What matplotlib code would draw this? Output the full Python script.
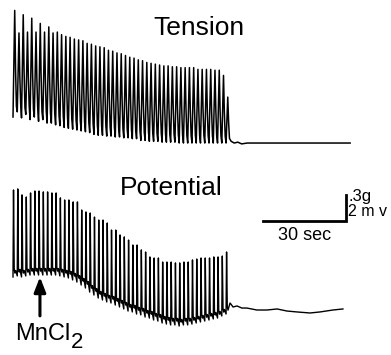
import numpy as np
import matplotlib
matplotlib.use("Agg")
import matplotlib.pyplot as plt

plt.rcParams['font.family'] = ['Liberation Sans', 'DejaVu Sans']

# beat timing (s)
beat_start = 0.36
beat_period = 1.54

# tension, g : peak and trough of every beat
tension_peak = [1.53, 1.27, 1.48, 1.28, 1.44, 1.28, 1.38, 1.28, 1.34, 1.27,
                1.28, 1.25, 1.23, 1.22, 1.20, 1.19, 1.18, 1.15, 1.14, 1.12,
                1.11, 1.10, 1.07, 1.06, 1.04, 1.03, 1.01, 0.99, 0.98, 0.96,
                0.95, 0.93, 0.92, 0.91, 0.90, 0.89, 0.89, 0.88, 0.88, 0.87,
                0.87, 0.87, 0.87, 0.85, 0.85, 0.85, 0.85, 0.84, 0.84, 0.78,
                0.53]
tension_trough = [0.30, 0.36, 0.29, 0.33, 0.27, 0.30, 0.25, 0.27, 0.23, 0.23,
                  0.21, 0.20, 0.18, 0.17, 0.16, 0.15, 0.14, 0.13, 0.12, 0.10,
                  0.09, 0.09, 0.08, 0.08, 0.07, 0.07, 0.06, 0.06, 0.05, 0.05,
                  0.03, 0.03, 0.02, 0.02, 0.02, 0.01, 0.01, 0.01, 0.01, 0.0,
                  0.0, 0.0, 0.0, 0.0, 0.0, 0.0, 0.0, 0.0, 0.0, 0.0,
                  0.0]
# tension after the beats stop
tension_tail_t = [79.2, 80.3, 81.6, 83.0, 85.0, 122.2]
tension_tail_v = [0.02, 0.0, 0.01, -0.01, 0.0, 0.0]

# potential, mV : spike peak and trough of every beat
potential_peak = [9.23, 9.31, 8.85, 8.69, 9.00, 9.15, 9.15, 9.08, 9.08, 9.00,
                  9.00, 8.62, 8.46, 8.46, 8.31, 8.31, 7.69, 7.54, 7.46, 7.15,
                  6.92, 6.92, 6.69, 6.15, 6.15, 5.77, 5.62, 5.38, 5.00, 5.00,
                  4.62, 4.46, 4.08, 4.00, 4.00, 3.69, 3.69, 3.69, 3.62, 3.62,
                  3.69, 3.69, 3.85, 3.92, 4.00, 4.00, 4.00, 4.08, 4.08, 4.15,
                  4.46]
potential_trough = [2.54, 2.62, 2.54, 2.62, 2.69, 2.69, 2.69, 2.69, 2.69, 2.69,
                    2.69, 2.62, 2.54, 2.46, 2.31, 2.15, 1.92, 1.69, 1.38, 1.15,
                    0.92, 0.77, 0.62, 0.54, 0.38, 0.23, 0.08, -0.08, -0.15, -0.31,
                    -0.38, -0.54, -0.62, -0.77, -0.85, -1.00, -1.08, -1.15, -1.15, -1.23,
                    -1.15, -1.15, -1.08, -1.00, -0.92, -0.85, -0.77, -0.69, -0.62, -0.46,
                    -0.31]
# potential after the beats stop
potential_tail_t = [78.8, 79.9, 81.3, 83.1, 84.9, 88.5, 92.2, 95.8, 99.4,
                    103.0, 107.7, 111.3, 116.0, 119.6]
potential_tail_v = [0.54, 0.23, 0.31, 0.15, 0.15, 0.0, 0.0, 0.08, -0.08,
                    -0.15, -0.23, -0.15, 0.0, 0.08]

mncl2_time = 10.1


def tension_trace():
    '''
      one twitch per beat: rise, shoulder on the way down
    '''
    t, v = [], []
    for i, (pk, tr) in enumerate(zip(tension_peak, tension_trough)):
        t0 = beat_start + i * beat_period
        amp = pk - tr
        t += [t0, t0 + 0.4 * beat_period, t0 + 0.6 * beat_period, t0 + 0.8 * beat_period]
        v += [tr, pk, tr + 0.45 * amp, tr + 0.1 * amp]
    return np.array(t + tension_tail_t), np.array(v + tension_tail_v)


def potential_trace():
    '''
      sharp spike per beat with a small after-bump
    '''
    t, v = [], []
    for i, (pk, tr) in enumerate(zip(potential_peak, potential_trough)):
        t0 = beat_start + i * beat_period
        t += [t0, t0 + 0.12 * beat_period, t0 + 0.28 * beat_period,
              t0 + 0.45 * beat_period, t0 + 0.62 * beat_period]
        v += [tr, pk, tr + 0.6, tr + 0.3, tr + 0.5]
    return np.array(t + potential_tail_t), np.array(v + potential_tail_v)


fig = plt.figure(figsize=(3.91, 3.55), dpi=100)
xlim = (-4.34, 136.97)

ax_t = fig.add_axes([0, 0.507, 1, 0.493])
ax_p = fig.add_axes([0, 0, 1, 0.507])
for ax in (ax_t, ax_p):
    ax.set_xlim(*xlim)
    ax.axis('off')
ax_t.set_ylim(-0.369, 1.65)
ax_p.set_ylim(-3.46, 10.38)

tt, tv = tension_trace()
ax_t.plot(tt, tv, color='black', lw=1.1)
ax_t.text(67.6, 1.246, 'Tension', ha='center', va='baseline', fontsize=19)

pt, pv = potential_trace()
ax_p.plot(pt, pv, color='black', lw=1.0)
ax_p.text(57.6, 8.85, 'Potential', ha='center', va='baseline', fontsize=19)

# scale bars: 30 sec, .3g / 2mv
bar_x, bar_y = 90.7, 6.85
ax_p.plot([bar_x, bar_x + 30, bar_x + 30], [bar_y, bar_y, bar_y + 2],
          color='black', lw=2.0, solid_joinstyle='miter')
ax_p.text(bar_x + 15.2, 5.38, '30 sec', ha='center', va='baseline', fontsize=13)
ax_p.text(bar_x + 30.8, 8.38, '.3g', ha='left', va='baseline', fontsize=12)
ax_p.text(bar_x + 30.8, 7.23, '2 m v', ha='left', va='baseline', fontsize=11.5)

# MnCl2 marker
ax_p.annotate('', xy=(mncl2_time, 2.54), xytext=(mncl2_time, -0.45),
              arrowprops=dict(arrowstyle='-|>,head_length=0.9,head_width=0.35',
                              color='black', lw=2.2, shrinkA=0, shrinkB=0))
ax_p.text(1.08, -2.31, 'MnCl', ha='left', va='baseline', fontsize=17)
ax_p.text(21.2, -2.95, '2', ha='left', va='baseline', fontsize=16)

fig.savefig('out.png', dpi=100)
